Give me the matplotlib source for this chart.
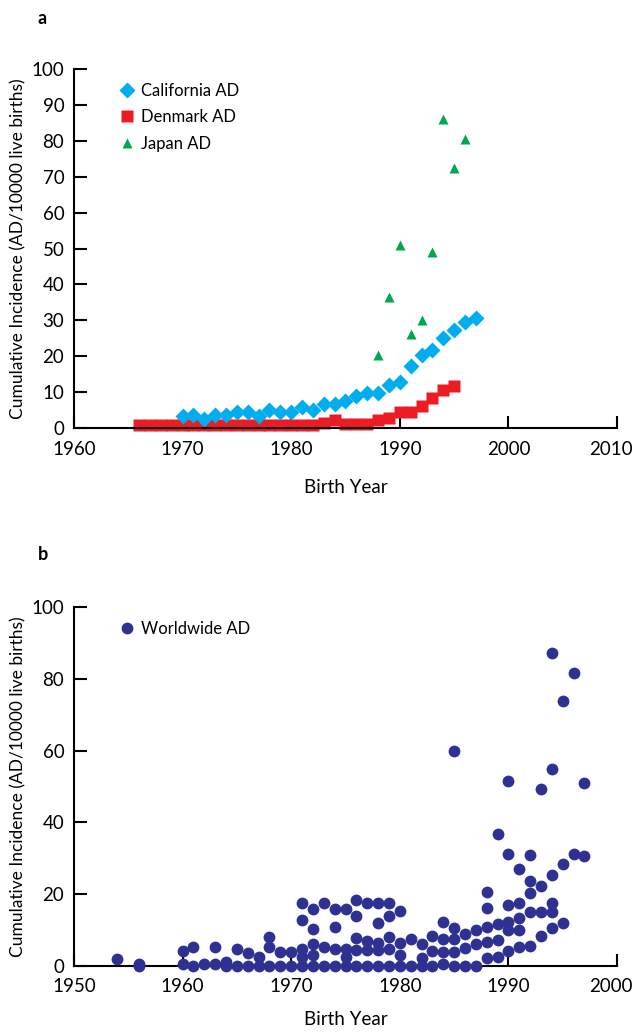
import numpy as np
import matplotlib
matplotlib.use('Agg')
import matplotlib.pyplot as plt
from matplotlib.transforms import ScaledTranslation

plt.rcParams['font.family'] = ['Lato', 'DejaVu Sans']

# panel a data
cal_years = np.arange(1970, 1998)
cal_vals = [3.4, 3.6, 2.5, 3.6, 3.6, 4.4, 4.4, 3.4, 5.1, 4.4, 4.4, 5.8, 4.9, 6.7,
            6.7, 7.4, 8.8, 9.7, 9.7, 12.1, 12.7, 17.2, 20.4, 21.6, 25.0, 27.2, 29.4, 30.6]

den_years = np.arange(1966, 1996)
den_vals = [0.7] * 17 + [1.4, 2.1, 1.2, 1.2, 1.2, 2.1, 2.8, 4.4, 4.4, 6.0, 8.3, 10.5, 11.8]

jap_years = np.arange(1988, 1997)
jap_vals = [20.4, 36.4, 50.9, 26.3, 30.1, 49.1, 86.0, 72.5, 80.5]

# panel b data: birth year -> values
world = {
    1954: [2.0],
    1956: [0.6, 0.0],
    1960: [4.2, 0.6],
    1961: [5.2, 0.0],
    1962: [0.6],
    1963: [5.2, 0.6],
    1964: [1.2, 0.0],
    1965: [4.7, 0.0],
    1966: [3.6, 0.0],
    1967: [2.5, 0.0],
    1968: [8.2, 5.3, 0.0],
    1969: [4.0, 0.0],
    1970: [4.0, 0.0],
    1971: [17.6, 12.9, 4.6, 2.5, 0.0],
    1972: [15.9, 10.4, 6.0, 3.1, 0.0],
    1973: [17.5, 5.4, 0.0],
    1974: [16.0, 10.9, 4.6, 0.0],
    1975: [15.9, 4.8, 2.5, 0.0],
    1976: [18.4, 13.9, 7.8, 4.4, 0.0],
    1977: [17.5, 7.0, 4.5, 0.0],
    1978: [17.5, 11.9, 6.3, 4.5, 0.0],
    1979: [17.5, 13.9, 8.1, 4.6, 0.0],
    1980: [15.2, 6.4, 3.0, 0.0],
    1981: [7.4, 0.0],
    1982: [6.0, 2.3, 0.0],
    1983: [8.3, 4.3, 0.0],
    1984: [12.3, 7.4, 4.0, 0.6],
    1985: [60.0, 10.5, 7.4, 4.0, 0.0],
    1986: [8.9, 4.9, 0.0],
    1987: [10.0, 6.0, 0.0],
    1988: [20.6, 16.2, 10.8, 6.8, 2.1],
    1989: [36.8, 11.7, 7.2, 2.6],
    1990: [51.6, 31.2, 17.0, 12.3, 10.0, 4.3],
    1991: [27.1, 17.5, 13.3, 10.0, 5.2],
    1992: [30.8, 23.7, 20.2, 15.1, 5.7],
    1993: [49.4, 22.3, 15.1, 8.4],
    1994: [87.3, 54.8, 25.3, 17.5, 15.1, 10.5],
    1995: [73.7, 28.4, 11.9],
    1996: [81.5, 31.2],
    1997: [51.1, 30.7],
}
world_x = np.concatenate([[yr] * len(v) for yr, v in world.items()])
world_y = np.concatenate([v for v in world.values()])

c_cal = '#00AEEF'
c_den = '#ED1C24'
c_jap = '#00A651'
c_world = '#2E3192'

fig = plt.figure(figsize=(6.37, 10.32), dpi=100)
ax1 = fig.add_axes([74/637, 1 - 428/1032, 543/637, 359/1032])
ax2 = fig.add_axes([74/637, 1 - 966/1032, 543/637, 359/1032])

ax1.plot(cal_years, cal_vals, 'D', color=c_cal, ms=8.5, mec='none', label='California AD', clip_on=False, zorder=3)
ax1.plot(den_years, den_vals, 's', color=c_den, ms=9, mec='none', label='Denmark AD', clip_on=False, zorder=2)
ax1.plot(jap_years, jap_vals, '^', color=c_jap, ms=7.5, mec='none', label='Japan AD', clip_on=False, zorder=3)

ax2.plot(world_x, world_y, 'o', color=c_world, ms=8.5, mec='none', label='Worldwide AD', clip_on=False, zorder=3)

ax1.set_xlim(1960, 2010)
ax1.set_ylim(0, 100)
ax1.set_xticks(np.arange(1960, 2011, 10))
ax1.set_yticks(np.arange(0, 101, 10))

ax2.set_xlim(1950, 2000)
ax2.set_ylim(0, 100)
ax2.set_xticks(np.arange(1950, 2001, 10))
ax2.set_yticks(np.arange(0, 101, 20))

for ax in (ax1, ax2):
    for s in ('top', 'right'):
        ax.spines[s].set_visible(False)
    for s in ('left', 'bottom'):
        ax.spines[s].set_linewidth(1.5)
    ax.tick_params(direction='in', length=9, width=1.5, labelsize=13.5)
    ax.tick_params(axis='x', pad=9)
    ax.tick_params(axis='y', pad=7)
    ax.set_xlabel('Birth Year', fontsize=13.5)
    ax.set_ylabel('Cumulative Incidence (AD/10000 live births)', fontsize=12.5)
    ax.yaxis.set_label_coords(-0.088, 0.5)
    ax.legend(loc='upper left', frameon=False, fontsize=12, borderpad=0,
              handlelength=1.0, handletextpad=0.3, labelspacing=0.63,
              borderaxespad=0, bbox_to_anchor=(0.083, 0.962))
    # nudge the last year label inward so it stays on the canvas
    last = ax.get_xticklabels()[-1]
    last.set_transform(last.get_transform() + ScaledTranslation(-6/100, 0, fig.dpi_scale_trans))

ax1.xaxis.set_label_coords(0.5, -0.142)
ax2.xaxis.set_label_coords(0.5, -0.125)

fig.text(42/637, 1 - 18/1032, 'a', fontsize=13, fontweight='bold', ha='center', va='center')
fig.text(43/637, 1 - 555/1032, 'b', fontsize=13, fontweight='bold', ha='center', va='center')

fig.savefig('out.png', dpi=100)
